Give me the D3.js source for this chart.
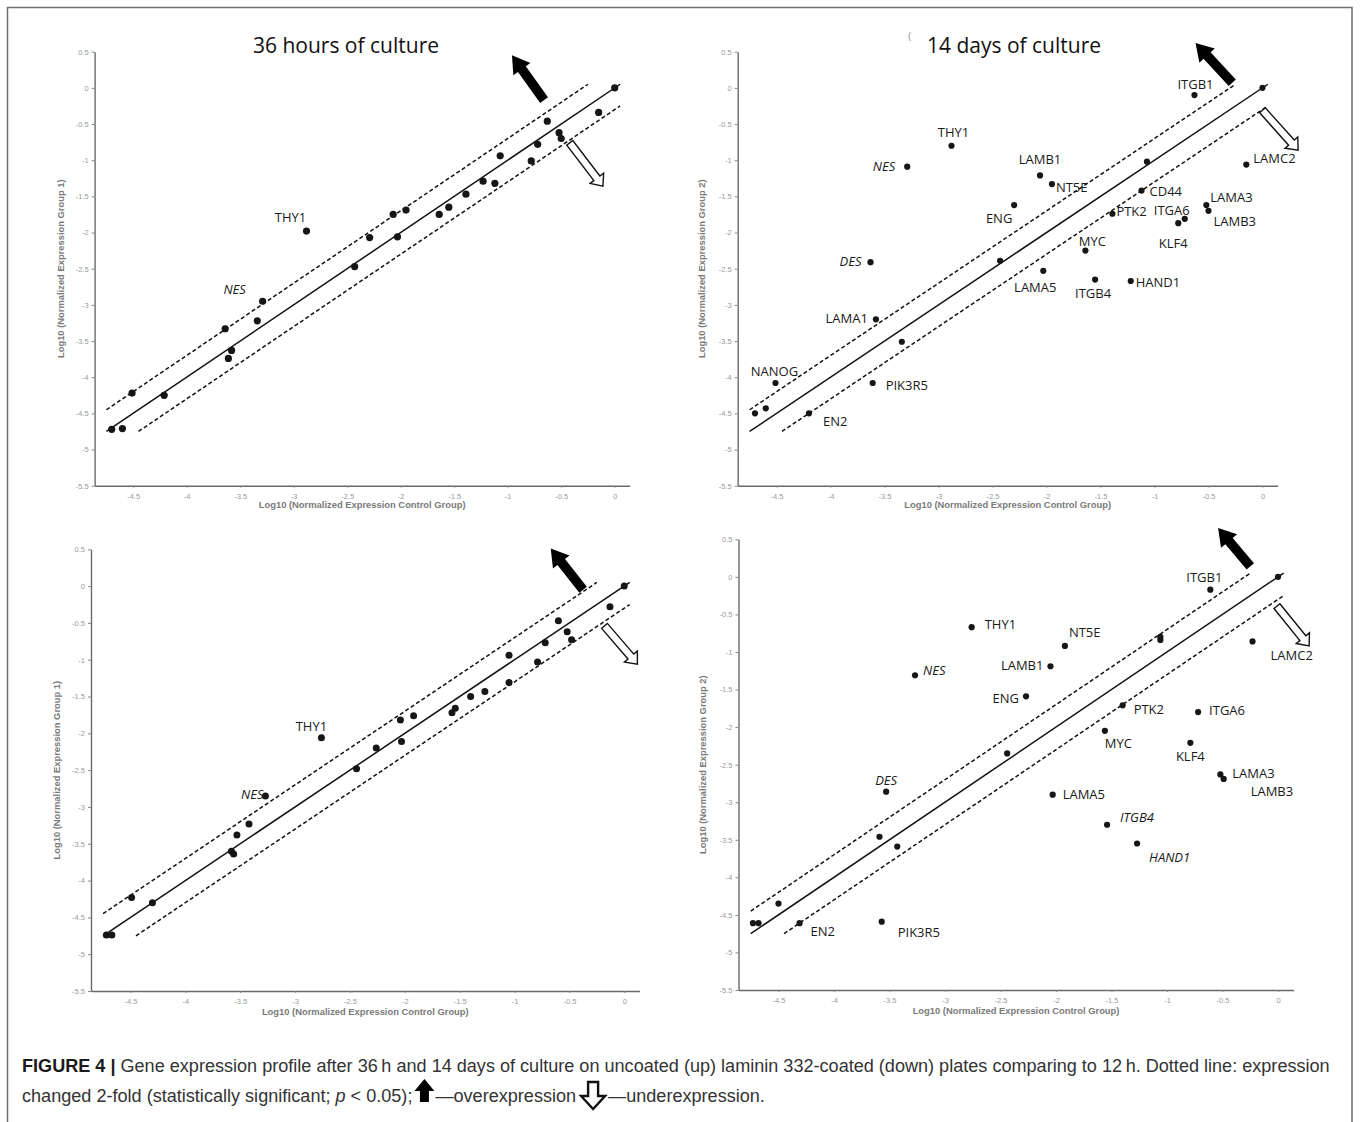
<!DOCTYPE html>
<html>
<head>
<meta charset="utf-8">
<script src="https://cdn.jsdelivr.net/npm/d3@7"></script>
<style>
  body { margin: 0; background: #fff; }
  svg { display: block; }
</style>
</head>
<body>
<div id="chart"></div>
<script>
// ---- data (log10 normalized expression) ----
const xTicks = [-4.5, -4, -3.5, -3, -2.5, -2, -1.5, -1, -0.5, 0];
const yTicks = [0.5, 0, -0.5, -1, -1.5, -2, -2.5, -3, -3.5, -4, -4.5, -5, -5.5];

// 36 h, uncoated
const p1Control = [-4.70, -4.60, -4.51, -4.21, -3.64, -3.61, -3.58, -3.34, -3.29, -2.88, -2.43, -2.29, -2.07, -2.03, -1.95, -1.64, -1.55, -1.39, -1.23, -1.12, -1.07, -0.78, -0.72, -0.63, -0.52, -0.50, -0.15, 0];
const p1Group   = [-4.72, -4.71, -4.22, -4.25, -3.33, -3.74, -3.63, -3.22, -2.95, -1.98, -2.47, -2.07, -1.75, -2.06, -1.69, -1.75, -1.65, -1.47, -1.29, -1.32, -0.94, -1.01, -0.78, -0.46, -0.62, -0.70, -0.34, 0];
const p1Genes   = ["", "", "", "", "", "", "", "", "NES", "THY1", "", "", "", "", "", "", "", "", "", "", "", "", "", "", "", "", "", ""];

// 14 days, uncoated
const p2Control = [-4.70, -4.60, -4.51, -4.20, -3.63, -3.61, -3.58, -3.34, -3.29, -2.88, -2.43, -2.30, -2.06, -2.03, -1.95, -1.64, -1.55, -1.39, -1.22, -1.12, -1.07, -0.78, -0.72, -0.63, -0.52, -0.50, -0.15, 0];
const p2Group   = [-4.50, -4.43, -4.08, -4.50, -2.41, -4.08, -3.20, -3.51, -1.09, -0.80, -2.39, -1.62, -1.21, -2.53, -1.33, -2.25, -2.65, -1.74, -2.67, -1.42, -1.02, -1.87, -1.81, -0.10, -1.62, -1.70, -1.06, 0];
const p2Genes   = ["", "", "NANOG", "EN2", "DES", "PIK3R5", "LAMA1", "", "NES", "THY1", "", "ENG", "LAMB1", "LAMA5", "NT5E", "MYC", "ITGB4", "PTK2", "HAND1", "CD44", "", "KLF4", "ITGA6", "ITGB1", "LAMA3", "LAMB3", "LAMC2", ""];

// 36 h, laminin 332-coated
const p3Control = [-4.72, -4.67, -4.49, -4.30, -3.58, -3.56, -3.53, -3.42, -3.27, -2.76, -2.44, -2.26, -2.04, -2.03, -1.92, -1.57, -1.54, -1.40, -1.27, -1.05, -1.05, -0.79, -0.72, -0.60, -0.52, -0.48, -0.13, 0];
const p3Group   = [-4.74, -4.74, -4.23, -4.30, -3.60, -3.64, -3.38, -3.23, -2.85, -2.06, -2.48, -2.20, -1.82, -2.11, -1.76, -1.72, -1.66, -1.50, -1.43, -1.31, -0.94, -1.03, -0.77, -0.47, -0.62, -0.73, -0.28, 0];
const p3Genes   = ["", "", "", "", "", "", "", "", "NES", "THY1", "", "", "", "", "", "", "", "", "", "", "", "", "", "", "", "", "", ""];

// 14 days, laminin 332-coated
const p4Control = [-4.73, -4.68, -4.50, -4.31, -3.59, -3.57, -3.53, -3.43, -3.27, -2.76, -2.44, -2.27, -2.05, -2.03, -1.92, -1.56, -1.54, -1.40, -1.27, -1.06, -1.06, -0.79, -0.72, -0.61, -0.52, -0.49, -0.23, 0];
const p4Group   = [-4.61, -4.61, -4.35, -4.61, -3.46, -4.59, -2.86, -3.59, -1.31, -0.67, -2.35, -1.59, -1.19, -2.90, -0.92, -2.05, -3.30, -1.71, -3.55, -0.80, -0.84, -2.21, -1.80, -0.17, -2.63, -2.69, -0.86, 0];
const p4Genes   = ["", "", "", "EN2", "", "PIK3R5", "DES", "", "NES", "THY1", "", "ENG", "LAMB1", "LAMA5", "NT5E", "MYC", "ITGB4", "PTK2", "HAND1", "", "", "KLF4", "ITGA6", "ITGB1", "LAMA3", "LAMB3", "LAMC2", ""];

// reference lines: identity and 2-fold (log10 2 ~ 0.3) bands
const identityLine = [[-4.75, -4.75], [0.05, 0.05]];
const upperLine = [[-4.75, -4.45], [-0.25, 0.05]];
const lowerLine = [[-4.45, -4.75], [0.05, -0.25]];

// ---- layout ----
const W = 1360, H = 1122;
const xDomain = [-4.86, 0.14], yDomain = [-5.5, 0.5];

const panels = [
  { control: p1Control, group: p1Group, genes: p1Genes, italic: ["NES"],
    left: 94.6, right: 629.7, top: 51.7, bottom: 485.7, r: 3.6,
    title: "36 hours of culture", titleX: 346, yTitle: "Log10 (Normalized Expression Group 1)", yTitleX: 61, xTitleY: 505,
    up: [[-0.66, -0.17], [-0.96, 0.45]], down: [[-0.42, -0.76], [-0.11, -1.36]] },
  { control: p2Control, group: p2Group, genes: p2Genes, italic: ["NES", "DES"],
    left: 737.7, right: 1277.6, top: 51.7, bottom: 485.7, r: 3.1,
    title: "14 days of culture", titleX: 1014, yTitle: "Log10 (Normalized Expression Group 2)", yTitleX: 702, xTitleY: 505,
    up: [[-0.28, 0.07], [-0.62, 0.62]], down: [[0.0, -0.31], [0.33, -0.86]] },
  { control: p3Control, group: p3Group, genes: p3Genes, italic: ["NES"],
    left: 91, right: 639.6, top: 549.3, bottom: 991, r: 3.5,
    title: "", yTitle: "Log10 (Normalized Expression Group 1)", yTitleX: 56.5, xTitleY: 1011.7,
    up: [[-0.375, -0.05], [-0.67, 0.51]], down: [[-0.18, -0.54], [0.12, -1.06]] },
  { control: p4Control, group: p4Group, genes: p4Genes, italic: ["NES", "DES", "ITGB4", "HAND1"],
    left: 738.5, right: 1293.6, top: 539.3, bottom: 990, r: 3.1,
    title: "", yTitle: "Log10 (Normalized Expression Group 2)", yTitleX: 703, xTitleY: 1010.7,
    up: [[-0.25, 0.14], [-0.54, 0.65]], down: [[-0.01, -0.39], [0.28, -0.92]] }
];

// label placement relative to the dot: [dx, dy, anchor]
const labelOffsets = [
  { THY1: [-16, -9, "middle"], NES: [-28, -7, "middle"] },
  { ITGB1: [1, -6, "middle"], THY1: [2, -9, "middle"], NES: [-12, 4, "end"], LAMB1: [0, -11, "middle"],
    NT5E: [4, 8, "start"], ENG: [-15, 18, "middle"], CD44: [8, 5, "start"], PTK2: [4, 2, "start"],
    ITGA6: [-13, -4, "middle"], LAMA3: [4, -3, "start"], LAMB3: [5, 15, "start"], KLF4: [-5, 25, "middle"],
    MYC: [7, -5, "middle"], LAMA5: [-8, 21, "middle"], ITGB4: [-2, 18, "middle"], HAND1: [5, 6, "start"],
    LAMC2: [7, -2, "start"], DES: [-9, 4, "end"], LAMA1: [-8, 4, "end"], NANOG: [-1, -7, "middle"],
    PIK3R5: [13, 7, "start"], EN2: [14, 13, "start"] },
  { THY1: [-10, -7, "middle"], NES: [-2, 3, "end"] },
  { ITGB1: [-6, -8, "middle"], THY1: [13, 2, "start"], NT5E: [4, -9, "start"], LAMB1: [-7, 4, "end"],
    NES: [8, 0, "start"], ENG: [-7, 7, "end"], PTK2: [11, 9, "start"], ITGA6: [11, 3, "start"],
    MYC: [0, 17, "start"], KLF4: [0, 18, "middle"], LAMA3: [12, 4, "start"], LAMB3: [27, 17, "start"],
    LAMC2: [18, 19, "start"], DES: [0, -7, "middle"], LAMA5: [10, 4, "start"], ITGB4: [13, -3, "start"],
    HAND1: [12, 18, "start"], EN2: [11, 13, "start"], PIK3R5: [16, 15, "start"] }
];

const svg = d3.select("#chart").append("svg")
  .attr("width", W).attr("height", H)
  .attr("viewBox", [0, 0, W, H]);

// outer frame
svg.append("rect")
  .attr("x", 7.5).attr("y", 7.5)
  .attr("width", 1344.5).attr("height", 1130)
  .attr("fill", "none").attr("stroke", "#6f6f6f").attr("stroke-width", 1.5);

// arrow polygon from tail to tip
function arrowPoints(x1, y1, x2, y2, w, hw, hl) {
  const dx = x2 - x1, dy = y2 - y1, L = Math.hypot(dx, dy);
  const ux = dx / L, uy = dy / L, px = -uy, py = ux;
  const bx = x2 - ux * hl, by = y2 - uy * hl;
  return [
    [x1 + px * w, y1 + py * w], [bx + px * w, by + py * w], [bx + px * hw, by + py * hw],
    [x2, y2],
    [bx - px * hw, by - py * hw], [bx - px * w, by - py * w], [x1 - px * w, y1 - py * w]
  ];
}

const fmt = d => String(d);

panels.forEach((p, pi) => {
  const x = d3.scaleLinear().domain(xDomain).range([p.left, p.right]);
  const y = d3.scaleLinear().domain(yDomain).range([p.bottom, p.top]);
  const g = svg.append("g");

  // axes
  const gx = g.append("g")
    .attr("transform", `translate(0,${p.bottom})`)
    .call(d3.axisBottom(x).tickValues(xTicks).tickFormat(fmt).tickSize(2).tickSizeOuter(0).tickPadding(6));
  const gy = g.append("g")
    .attr("transform", `translate(${p.left},0)`)
    .call(d3.axisLeft(y).tickValues(yTicks).tickFormat(fmt).tickSize(3).tickSizeOuter(0).tickPadding(3));
  [gx, gy].forEach(a => {
    a.select(".domain").attr("stroke", "#6a6a6a").attr("stroke-width", 1.4);
    a.selectAll(".tick line").attr("stroke", "#888");
    a.selectAll(".tick text").attr("fill", "#9a9a9a")
      .style("font-family", "'Liberation Sans', Arial, sans-serif").style("font-size", "7.5px");
  });

  // axis titles
  g.append("text")
    .attr("x", (p.left + p.right) / 2).attr("y", p.xTitleY).attr("dy", "0.35em")
    .attr("text-anchor", "middle").attr("fill", "#7a7a7a")
    .style("font-family", "'Liberation Sans', Arial, sans-serif").style("font-size", "9.4px").style("font-weight", "bold")
    .text("Log10 (Normalized Expression Control Group)");
  g.append("text")
    .attr("transform", `translate(${p.yTitleX},${(p.top + p.bottom) / 2}) rotate(-90)`)
    .attr("dy", "0.35em")
    .attr("text-anchor", "middle").attr("fill", "#7a7a7a")
    .style("font-family", "'Liberation Sans', Arial, sans-serif").style("font-size", "9.4px").style("font-weight", "bold")
    .text(p.yTitle);

  // panel title
  if (p.title) {
    g.append("text")
      .attr("x", p.titleX).attr("y", 53)
      .attr("text-anchor", "middle").attr("fill", "#111")
      .style("font-family", "'Open Sans', sans-serif").style("font-size", "21px")
      .text(p.title);
  }

  // reference lines
  const line = d3.line().x(d => x(d[0])).y(d => y(d[1]));
  g.append("path").attr("d", line(identityLine))
    .attr("fill", "none").attr("stroke", "#111").attr("stroke-width", 1.5);
  [upperLine, lowerLine].forEach(l => {
    g.append("path").attr("d", line(l))
      .attr("fill", "none").attr("stroke", "#111").attr("stroke-width", 1.5)
      .attr("stroke-dasharray", "4,2.5");
  });

  // up / down arrows
  g.append("polygon")
    .attr("points", arrowPoints(x(p.up[0][0]), y(p.up[0][1]), x(p.up[1][0]), y(p.up[1][1]), 4.8, 10.5, 17).join(" "))
    .attr("fill", "#000");
  g.append("polygon")
    .attr("points", arrowPoints(x(p.down[0][0]), y(p.down[0][1]), x(p.down[1][0]), y(p.down[1][1]), 3.8, 8.5, 10).join(" "))
    .attr("fill", "#fff").attr("stroke", "#111").attr("stroke-width", 1.4).attr("stroke-linejoin", "miter");

  // dots
  const pts = p.control.map((c, i) => ({ cx: c, cy: p.group[i], gene: p.genes[i] }));
  g.selectAll("circle.dot").data(pts).join("circle")
    .attr("class", "dot")
    .attr("cx", d => x(d.cx)).attr("cy", d => y(d.cy)).attr("r", p.r)
    .attr("fill", "#161616");

  // gene labels
  const offs = labelOffsets[pi];
  g.selectAll("text.gene").data(pts.filter(d => d.gene)).join("text")
    .attr("class", "gene")
    .attr("x", d => x(d.cx) + offs[d.gene][0])
    .attr("y", d => y(d.cy) + offs[d.gene][1])
    .attr("text-anchor", d => offs[d.gene][2])
    .attr("fill", "#1a1a1a")
    .style("font-family", "'Open Sans', sans-serif").style("font-size", "13px")
    .style("font-style", d => p.italic.includes(d.gene) ? "italic" : "normal")
    .text(d => d.gene);
});

// stray mark near the second title
svg.append("text").attr("x", 908).attr("y", 39).attr("fill", "#888")
  .style("font-family", "'Liberation Sans', Arial, sans-serif").style("font-size", "9px").text("(");

// ---- caption ----
const capFont = "'Liberation Sans', Arial, sans-serif";
const cap1 = svg.append("text").attr("x", 22).attr("y", 1072).attr("fill", "#333")
  .style("font-family", capFont).style("font-size", "17.5px");
cap1.append("tspan").style("font-weight", "bold").attr("fill", "#1a1a1a").text("FIGURE 4 | ");
cap1.append("tspan").text("Gene expression profile after 36\u2009h and 14 days of culture on uncoated (up) laminin 332-coated (down) plates comparing to 12\u2009h. Dotted line: expression");
// fit the first line to the figure width
const len1 = cap1.node().getComputedTextLength();
const capSize = 17.5 * 1308 / len1;
cap1.style("font-size", capSize + "px");

const capY2 = 1102;
const cap2a = svg.append("text").attr("x", 22).attr("y", capY2).attr("fill", "#333")
  .style("font-family", capFont).style("font-size", capSize + "px");
cap2a.append("tspan").text("changed 2-fold (statistically significant; ");
cap2a.append("tspan").style("font-style", "italic").text("p");
cap2a.append("tspan").text(" < 0.05); ");
let cx = 22 + cap2a.node().getComputedTextLength() + 2;

// filled up arrow icon
const upIcon = [[0, 9], [10, -3], [20, 9], [14.5, 9], [14.5, 20], [5.5, 20], [5.5, 9]];
svg.append("polygon")
  .attr("points", upIcon.map(d => [cx + d[0], capY2 - 20 + d[1]]).join(" "))
  .attr("fill", "#000");
cx += 21;
const cap2b = svg.append("text").attr("x", cx).attr("y", capY2).attr("fill", "#333")
  .style("font-family", capFont).style("font-size", capSize + "px")
  .text("\u2014overexpression ");
cx += cap2b.node().getComputedTextLength() + 4;

// hollow down arrow icon
const downIcon = [[8, -20], [18, -20], [18, -6], [25, -6], [13, 7], [1, -6], [8, -6]];
svg.append("polygon")
  .attr("points", downIcon.map(d => [cx + d[0], capY2 + d[1]]).join(" "))
  .attr("fill", "#fff").attr("stroke", "#111").attr("stroke-width", 2.4);
cx += 28;
svg.append("text").attr("x", cx).attr("y", capY2).attr("fill", "#333")
  .style("font-family", capFont).style("font-size", capSize + "px")
  .text("\u2014underexpression.");
</script>
</body>
</html>
